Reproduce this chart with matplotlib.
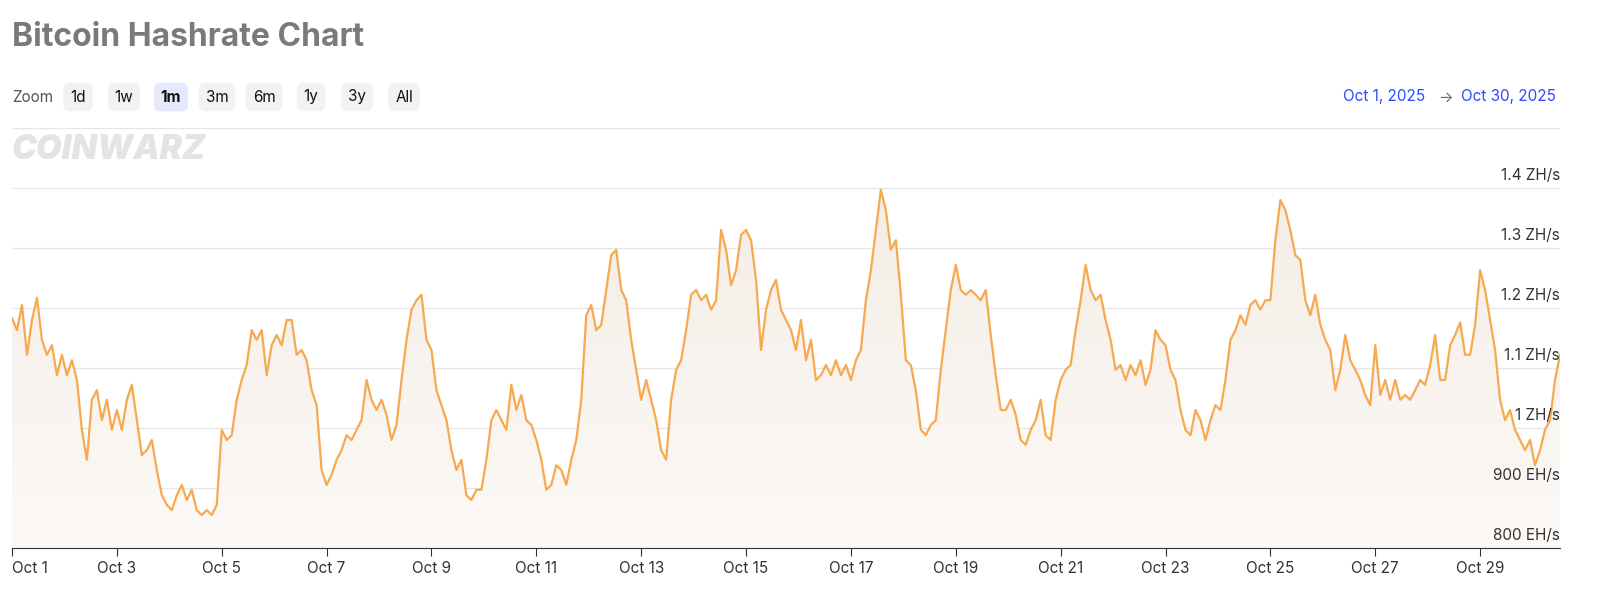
import matplotlib
matplotlib.use("Agg")
import matplotlib.pyplot as plt
import matplotlib.dates as mdates
import pandas as pd
import numpy as np

start = "2025-10-01 00:00"
step_hours = 2.2857
hashrate = [1183,1163,1205,1122,1180,1217,1147,1122,1138,1088,1122,1088,1113,1080,997,947,1047,1063,1013,1047,997,1030,997,1047,1072,1013,955,963,980,930,888,872,863,888,905,880,897,863,855,863,855,872,997,980,988,1047,1080,1105,1163,1147,1163,1088,1138,1155,1138,1180,1180,1122,1130,1113,1063,1038,930,905,922,947,963,988,980,997,1013,1080,1047,1030,1047,1022,980,1005,1080,1147,1197,1213,1222,1147,1130,1063,1038,1013,963,930,947,888,880,897,897,947,1013,1030,1013,997,1072,1030,1055,1013,1005,980,947,897,905,938,930,905,947,980,1047,1188,1205,1163,1172,1230,1288,1297,1230,1213,1147,1097,1047,1080,1047,1013,963,947,1047,1097,1113,1163,1222,1230,1213,1222,1197,1213,1330,1297,1238,1263,1322,1330,1313,1247,1130,1197,1230,1247,1197,1180,1163,1130,1180,1113,1147,1080,1088,1105,1088,1113,1088,1105,1080,1113,1130,1213,1263,1330,1397,1363,1297,1313,1222,1113,1105,1063,997,988,1005,1013,1097,1163,1230,1272,1230,1222,1230,1222,1213,1230,1155,1088,1030,1030,1047,1022,980,972,997,1013,1047,988,980,1047,1080,1097,1105,1163,1213,1272,1230,1213,1222,1180,1147,1097,1105,1080,1105,1088,1113,1072,1097,1163,1147,1138,1097,1080,1030,997,988,1030,1013,980,1013,1038,1030,1080,1147,1163,1188,1172,1205,1213,1197,1213,1213,1313,1380,1363,1330,1288,1280,1213,1188,1222,1172,1147,1130,1063,1097,1155,1113,1097,1080,1055,1038,1138,1055,1080,1047,1080,1047,1055,1047,1063,1080,1072,1105,1155,1080,1080,1138,1155,1176,1122,1122,1172,1263,1230,1180,1130,1047,1013,1030,997,980,963,980,938,963,997,1013,1080,1122]

times = pd.date_range(start, periods=len(hashrate), freq=pd.Timedelta(hours=step_hours))
ytick_vals = [800, 900, 1000, 1100, 1200, 1300, 1400]
ytick_labels = ["800 EH/s", "900 EH/s", "1 ZH/s", "1.1 ZH/s", "1.2 ZH/s", "1.3 ZH/s", "1.4 ZH/s"]
zoom_buttons = ["1d", "1w", "1m", "3m", "6m", "1y", "3y", "All"]

plt.rcParams['font.family'] = ['Inter', 'DejaVu Sans']
fig = plt.figure(figsize=(16, 6.05), dpi=100)
ax = fig.add_axes([12/1600, 1-548/605, (1560-12)/1600, 420/605])
ax.plot(times, hashrate, color="#f7a94f", lw=1.6, zorder=3)
# gradient fill
ax.set_ylim(800, 1500)
xlim = (mdates.date2num(pd.Timestamp("2025-10-01")), mdates.date2num(times[-1]))
ax.set_xlim(*xlim)
grad = np.linspace(0.75, 0.25, 256).reshape(-1, 1)
img = ax.imshow(grad, extent=[xlim[0], xlim[1], 800, 1400], aspect="auto",
                cmap=matplotlib.colors.LinearSegmentedColormap.from_list("g", ["#ffffff", "#f1e7dd"]),
                vmin=0, vmax=1, origin="upper", zorder=1)
poly = ax.fill_between(times, hashrate, 800, color="none")
img.set_clip_path(poly.get_paths()[0], transform=ax.transData)
for v in ytick_vals[1:] + [1500]:
    ax.axhline(v, color="#e6e6e6", lw=1, zorder=0)
ax.set_yticks([])
for v, l in zip(ytick_vals, ytick_labels):
    ax.text(1.0, v + 8, l, transform=ax.get_yaxis_transform(), ha="right", va="bottom", fontsize=11, color="#333333", zorder=5)
for s in ["top", "right", "left"]:
    ax.spines[s].set_visible(False)
ax.spines["bottom"].set_color("#333333")
ax.xaxis.set_major_locator(mdates.DayLocator(bymonthday=range(1, 31, 2)))
ax.xaxis.set_major_formatter(mdates.DateFormatter("Oct %-d"))
ax.tick_params(axis="x", labelsize=11, colors="#333333", length=6)
fig.canvas.draw()
ax.get_xticklabels()[0].set_horizontalalignment("left")

fig.text(12/1600, 1-37/605, "Bitcoin Hashrate Chart", fontsize=23, fontweight="bold", color="#7a7a7a", va="center")
fig.text(12/1600, 1-97/605, "Zoom", fontsize=11, color="#555555", va="center")
xs = [78, 124, 171, 217, 264, 311, 357, 404]
for x, b in zip(xs, zoom_buttons):
    sel = b == "1m"
    fig.text(x/1600, 1-97/605, b, fontsize=11, ha="center", va="center",
             color="#111111", fontweight="bold" if sel else "normal",
             bbox=dict(boxstyle="round,pad=0.45", fc="#e6e8fb" if sel else "#f2f2f2", ec="none"))
fig.text(1425/1600, 1-97/605, "Oct 1, 2025", fontsize=11, color="#2b4bff", ha="right", va="center")
fig.text(1445/1600, 1-97/605, "→", fontsize=11, color="#666666", ha="center", va="center")
fig.text(1556/1600, 1-97/605, "Oct 30, 2025", fontsize=11, color="#2b4bff", ha="right", va="center")
fig.text(12/1600, 1-150/605, "COINWARZ", fontsize=24, fontweight="black", color="#e4e4e4", va="center", style="italic")
fig.savefig("out.png")
